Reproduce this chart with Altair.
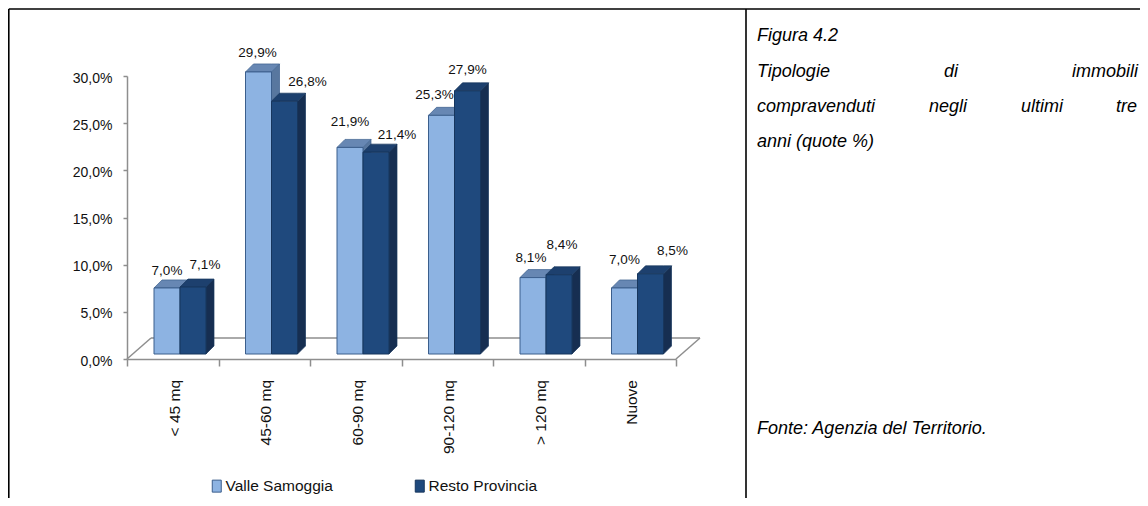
import altair as alt
import pandas as pd

# ---------------- data ----------------
categories = ["< 45 mq", "45-60 mq", "60-90 mq", "90-120 mq", "> 120 mq", "Nuove"]
series_names = ["Valle Samoggia", "Resto Provincia"]
valle_samoggia = [7.0, 29.9, 21.9, 25.3, 8.1, 7.0]
resto_provincia = [7.1, 26.8, 21.4, 27.9, 8.4, 8.5]
y_ticks = [0, 5, 10, 15, 20, 25, 30]

# ---------------- style ----------------
FONT = "Liberation Sans, Arial"
TXT = "#111111"
GRAY = "#8E8E8E"
LIGHT, LIGHT_TOP, LIGHT_SIDE, LIGHT_EDGE = "#8DB3E2", "#6787B3", "#58779F", "#3B5E8C"
DARK, DARK_TOP, DARK_SIDE, DARK_EDGE = "#1F497D", "#1D406E", "#162E51", "#17365D"

W, H = 549, 283           # plot area (pixels)
YMAX = 30
N = len(categories)
PX_X = N / W              # data units per pixel
PX_Y = YMAX / H
DEPTH = 8                 # 3d depth of bars (px)
BASE = 5                  # bars stand a little behind the front floor edge (px)
FLOOR_DX, FLOOR_DY = 24, 21
bar_span = {series_names[0]: (27, 53), series_names[1]: (53, 79)}  # px inside each category band
BAND = W / N

# label nudges (px) to follow the original placement
lab_dx = {series_names[0]: [0, -1, 0, -7, -2, 0], series_names[1]: [12, 23, 21, 0, 3, 22]}
lab_dy = {series_names[0]: [-17, -19, -25, -20, -20, -28], series_names[1]: [-22, -19, -17, -21, -30, -23]}

values = {series_names[0]: valle_samoggia, series_names[1]: resto_provincia}

front_rows, side_rows, top_rows, lab_rows = [], [], [], []
dX, dY = DEPTH * PX_X, DEPTH * PX_Y
b0 = BASE * PX_Y
for s in series_names:
    for i, (c, v) in enumerate(zip(categories, values[s])):
        x0 = (i * BAND + bar_span[s][0]) * PX_X
        x1 = (i * BAND + bar_span[s][1]) * PX_X
        y0, y1 = b0, b0 + v
        g = f"{s}-{i}"
        front_rows.append(dict(series=s, cat=c, x0=x0, x1=x1, y0=y0, y1=y1, v=v))
        side_rows += [dict(series=s, g=g, x=x1, yt=y1, yb=y0),
                      dict(series=s, g=g, x=x1 + dX, yt=y1 + dY, yb=y0 + dY)]
        top_rows += [dict(series=s, g=g, x=x0, yt=y1, yb=y1),
                     dict(series=s, g=g, x=x0 + dX, yt=y1 + dY, yb=y1),
                     dict(series=s, g=g, x=x1, yt=y1 + dY, yb=y1),
                     dict(series=s, g=g, x=x1 + dX, yt=y1 + dY, yb=y1 + dY)]
        lab_rows.append(dict(series=s, x=(x0 + x1) / 2 + lab_dx[s][i] * PX_X,
                             y=y1 - lab_dy[s][i] * PX_Y,
                             label=f"{v:.1f}".replace(".", ",") + "%"))

front = pd.DataFrame(front_rows)
side = pd.DataFrame(side_rows)
top = pd.DataFrame(top_rows)
labs = pd.DataFrame(lab_rows)
cats = pd.DataFrame({"cat": categories, "x": [i + 0.5 for i in range(N)], "y": [0.0] * N})
floor = pd.DataFrame({"x": [0.0], "x2": [float(N)], "y": [0.0]})

xs = alt.Scale(domain=[0, N], nice=False, zero=False)
ys = alt.Scale(domain=[0, YMAX], nice=False, zero=False)
x_axis = alt.Axis(values=list(range(N + 1)), labels=False, tickSize=7, tickColor=GRAY,
                  domainColor=GRAY, domainWidth=1.5, tickWidth=1.5, grid=False, title=None)
y_axis = alt.Axis(values=y_ticks, labelExpr="replace(format(datum.value, '.1f'), '.', ',') + '%'",
                  tickSize=4, tickColor=GRAY, domainColor=GRAY, domainWidth=1.5, tickWidth=1.5,
                  grid=False, title=None, labelFont=FONT, labelFontSize=14, labelColor=TXT,
                  labelPadding=11, labelBaseline="middle", labelOffset=2)


def X(f):
    return alt.X(f, type="quantitative", scale=xs, axis=x_axis)


def Y(f):
    return alt.Y(f, type="quantitative", scale=ys, axis=y_axis)


# floor of the 3d chart
floor_back = alt.Chart(floor).mark_rule(color=GRAY, strokeWidth=1.5, xOffset=FLOOR_DX, x2Offset=FLOOR_DX,
                                        yOffset=-FLOOR_DY).encode(x=X("x"), x2="x2", y=Y("y"))
floor_left = alt.Chart(floor).mark_rule(color=GRAY, strokeWidth=1.5, x2Offset=FLOOR_DX,
                                        y2Offset=-FLOOR_DY).encode(x=X("x"), x2="x", y=Y("y"), y2="y")
floor_right = alt.Chart(floor).mark_rule(color=GRAY, strokeWidth=1.5, x2Offset=FLOOR_DX,
                                         y2Offset=-FLOOR_DY).encode(x=X("x2"), x2="x2", y=Y("y"), y2="y")


def faces(df, s, fill, edge):
    return alt.Chart(df).transform_filter(alt.datum.series == s).mark_area(
        color=fill, stroke=edge, strokeWidth=0.7, interpolate="linear"
    ).encode(x=X("x"), y=Y("yt"), y2="yb", detail="g:N")


fronts = alt.Chart(front).mark_rect(strokeWidth=1).encode(
    x=X("x0"), x2="x1", y=Y("y0"), y2="y1",
    color=alt.Color("series:N", scale=alt.Scale(domain=series_names, range=[LIGHT, DARK]),
                    legend=alt.Legend(orient="none", legendX=82, legendY=402, direction="horizontal",
                                      title=None, symbolType="M-0.75,-1H0.75V1H-0.75Z", symbolSize=144,
                                      symbolStrokeColor=DARK_EDGE, symbolStrokeWidth=1,
                                      labelFont=FONT, labelFontSize=15.5, labelColor=TXT,
                                      labelOffset=1, columnPadding=79)),
    stroke=alt.Stroke("series:N", scale=alt.Scale(domain=series_names, range=[LIGHT_EDGE, DARK_EDGE]),
                      legend=None),
)

value_labels = alt.Chart(labs).mark_text(font=FONT, fontSize=13.5, color=TXT, baseline="middle").encode(
    x=X("x"), y=Y("y"), text="label:N")

cat_labels = alt.Chart(cats).mark_text(font=FONT, fontSize=15.5, color=TXT, angle=270, align="right",
                                       baseline="middle", yOffset=21, xOffset=2).encode(
    x=X("x"), y=Y("y"), text="cat:N")

# ---------------- the document table around the chart ----------------
OX, OY = 127, 76   # page position of the plot origin


def px(xp):
    return xp - OX


def py(yp):
    return yp - OY


def rule(x1, y1, x2, y2, w=1.6):
    return alt.Chart(floor).mark_rule(color="#000000", strokeWidth=w).encode(
        x=alt.value(px(x1)), x2=alt.value(px(x2)), y=alt.value(py(y1)), y2=alt.value(py(y2)))


borders = [rule(8.8, 9, 1170, 9), rule(8.8, 9, 8.8, 520), rule(746, 9, 746, 520)]

RSIZE = 18


def word(t, xp, yp):
    return alt.Chart(floor).mark_text(text=t, font=FONT, fontSize=RSIZE, fontStyle="italic",
                                      color="#000000", align="left", baseline="alphabetic").encode(
        x=alt.value(px(xp)), y=alt.value(py(yp)))


# justified caption (right margin at the page edge)
words = [
    word("Figura 4.2", 757, 41),
    word("Tipologie", 757, 77), word("di", 944, 77), word("immobili", 1072, 77),
    word("compravenduti", 757, 112), word("negli", 929, 112), word("ultimi", 1021, 112), word("tre", 1116, 112),
    word("anni (quote %)", 757, 147),
    word("Fonte: Agenzia del Territorio.", 757, 434),
]

layers = [floor_back, floor_left, floor_right,
          faces(side, series_names[0], LIGHT_SIDE, LIGHT_EDGE),
          faces(top, series_names[0], LIGHT_TOP, LIGHT_EDGE),
          faces(side, series_names[1], DARK_SIDE, DARK_EDGE),
          faces(top, series_names[1], DARK_TOP, DARK_EDGE),
          fronts, value_labels, cat_labels] + borders + words

# the page keeps an 8px margin: the whole chart must fit in 1132 x 490
TOTAL_W, TOTAL_H = 1132, 490
chart = alt.layer(*layers).properties(
    width=W, height=H,
    padding={"left": OX - 8, "top": OY - 8, "right": TOTAL_W - (OX - 8) - W,
             "bottom": TOTAL_H - (OY - 8) - H},
    autosize=alt.AutoSizeParams(type="none"),
    background="#FFFFFF",
).configure_view(stroke=None)

chart.save("out.html", embed_options={"renderer": "svg", "actions": False})
